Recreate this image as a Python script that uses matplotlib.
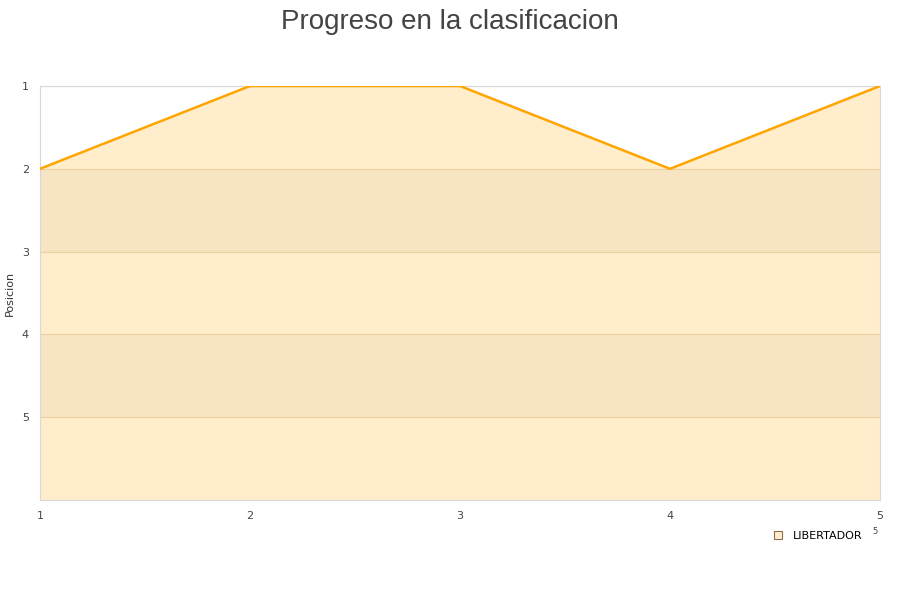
import matplotlib
matplotlib.use("Agg")
import matplotlib.pyplot as plt
from matplotlib.lines import Line2D

jornadas = [1, 2, 3, 4, 5]
posiciones = [2, 1, 1, 2, 1]
y_ticks = [1, 2, 3, 4, 5]
equipo = "LIBERTADOR"

fig = plt.figure(figsize=(9, 6), dpi=100)
ax = fig.add_axes([40/900, 1-500/600, 840/900, 414/600])

for lo, hi in [(2, 3), (4, 5)]:
    ax.axhspan(lo, hi, color="#f4f4f4", zorder=0, lw=0)
for t in y_ticks:
    ax.axhline(t, color="#e8dcc6", lw=0.8, zorder=1)

ax.fill_between(jornadas, posiciones, 6, color="#ffa500", alpha=0.2, lw=0, zorder=2)
ax.plot(jornadas, posiciones, color="#ffa500", lw=1.8, zorder=3)

ax.set_xlim(1, 5)
ax.set_ylim(6, 1)
ax.set_xticks(jornadas)
ax.set_yticks(y_ticks)
ax.tick_params(length=0, labelsize=8, colors="#444444", pad=8)
for s in ax.spines.values():
    s.set_color("#d8d8d8")
ax.set_ylabel("Posicion", fontsize=8, color="#333333")
ax.yaxis.set_label_coords(-25/840, 0.5)

fig.suptitle("Progreso en la clasificacion", fontsize=20, color="#444444", y=0.985,
             family=["Liberation Sans", "DejaVu Sans"])

handle = Line2D([], [], marker="s", ls="none", markersize=6,
                markerfacecolor="#ffedcc", markeredgecolor="#8a7050", markeredgewidth=0.8)
leg = fig.legend([handle], [equipo], loc="center right", bbox_to_anchor=(872/900, 1-536/600),
                 frameon=False, fontsize=8, handletextpad=0.3)
fig.text(875/900, 1-531/600, "5", fontsize=6, color="#444444", ha="center", va="center")

fig.savefig("out.png", dpi=100)
